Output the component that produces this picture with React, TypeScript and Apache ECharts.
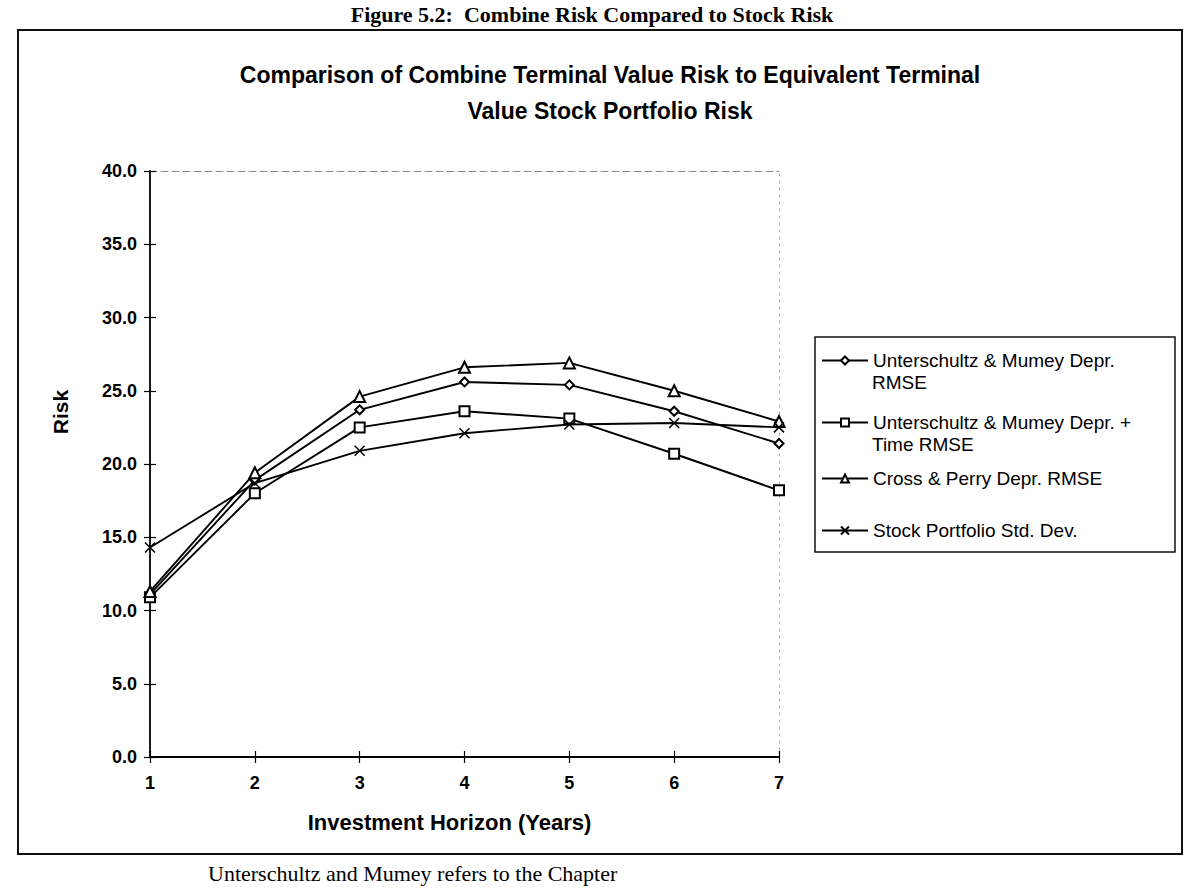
import React, { useEffect, useRef } from "react";
import * as echarts from "echarts";

const years = [1, 2, 3, 4, 5, 6, 7];
const umDepr = [11.1, 18.9, 23.7, 25.6, 25.4, 23.6, 21.4];
const umDeprTime = [10.9, 18.0, 22.5, 23.6, 23.1, 20.7, 18.2];
const crossPerry = [11.3, 19.4, 24.6, 26.6, 26.9, 25.0, 22.9];
const stockStd = [14.3, 18.7, 20.9, 22.1, 22.7, 22.8, 22.5];
const yTicks = { min: 0, max: 40, interval: 5 };

const seriesNames = [
  "Unterschultz & Mumey Depr. RMSE",
  "Unterschultz & Mumey Depr. + Time RMSE",
  "Cross & Perry Depr. RMSE",
  "Stock Portfolio Std. Dev.",
];
const legendFirstLines = [
  "Unterschultz & Mumey Depr.",
  "Unterschultz & Mumey Depr. +",
  "Cross & Perry Depr. RMSE",
  "Stock Portfolio Std. Dev.",
];
const legendSecondLines = ["RMSE", "Time RMSE", "", ""];

const FONT = "'Liberation Sans', Arial, Helvetica, sans-serif";
const SERIF = "'Liberation Serif', 'Times New Roman', serif";

export default function App() {
  const ref = useRef<HTMLDivElement>(null);
  useEffect(() => {
    if (!ref.current) return;
    const chart = echarts.init(ref.current, undefined, { renderer: "svg" });
    const values = [umDepr, umDeprTime, crossPerry, stockStd];
    const symbols = ["emptyDiamond", "emptyRect", "emptyTriangle", "path://M0,0L10,10M10,0L0,10"];
    const sizes = [9, 10, 11, 10];
    const legendTops = [351, 413, 469, 521];
    const legendFont = 19;

    const series = values.map((arr, i) => ({
      name: seriesNames[i],
      type: "line",
      data: arr.map((v, k) => [years[k], v]),
      symbol: symbols[i],
      symbolSize: sizes[i],
      showAllSymbol: true,
      lineStyle: { color: "#000", width: 1.9 },
      itemStyle: { color: "#000", borderColor: "#000", borderWidth: 1.5 },
      emphasis: { disabled: true },
      xAxisIndex: 0,
      yAxisIndex: 0,
      z: 3 + i,
    }));

    const legends = seriesNames.map((n, i) => ({
      data: [n],
      left: 821,
      top: legendTops[i],
      orient: "vertical",
      padding: 0,
      itemWidth: 46,
      itemHeight: 10,
      selectedMode: false,
      formatter: () => legendFirstLines[i],
      textStyle: { fontFamily: FONT, fontSize: legendFont, color: "#000" },
    }));

    const graphic: any[] = [
      {
        type: "rect",
        shape: { x: 18, y: 30, width: 1164, height: 824 },
        style: { fill: "none", stroke: "#111", lineWidth: 2 },
        silent: true,
      },
      {
        type: "rect",
        shape: { x: 815, y: 337, width: 360, height: 215 },
        style: { fill: "#fff", stroke: "#111", lineWidth: 1.5 },
        silent: true,
        z: -1,
      },
      {
        type: "text",
        x: 592,
        y: 3,
        style: {
          text: "Figure 5.2:  Combine Risk Compared to Stock Risk",
          font: `bold 22px ${SERIF}`,
          fill: "#000",
          textAlign: "center",
          textVerticalAlign: "top",
        },
      },
      {
        type: "text",
        x: 208,
        y: 862,
        style: {
          text: "Unterschultz and Mumey refers to the Chapter",
          font: `22px ${SERIF}`,
          fill: "#000",
          textAlign: "left",
          textVerticalAlign: "top",
        },
      },
      {
        type: "text",
        x: 60,
        y: 412,
        rotation: Math.PI / 2,
        style: {
          text: "Risk",
          font: `bold 21px ${FONT}`,
          fill: "#000",
          textAlign: "center",
          textVerticalAlign: "middle",
        },
      },
    ];
    legendSecondLines.forEach((t, i) => {
      if (!t) return;
      graphic.push({
        type: "text",
        x: 872,
        y: legendTops[i] + 5 + 26,
        style: {
          text: t,
          font: `${legendFont}px ${FONT}`,
          fill: "#000",
          textAlign: "left",
          textVerticalAlign: "middle",
        },
        z: 10,
      });
    });

    const option: any = {
      animation: false,
      backgroundColor: "#fff",
      title: {
        text: "Comparison of Combine Terminal Value Risk to Equivalent Terminal\nValue Stock Portfolio Risk",
        left: 605,
        top: 52,
        textAlign: "center",
        textStyle: {
          fontFamily: FONT,
          fontSize: 23,
          fontWeight: "bold",
          color: "#000",
          lineHeight: 36,
        },
      },
      legend: legends,
      grid: { left: 150, top: 171, width: 629, height: 586, containLabel: false },
      xAxis: [
        {
          type: "value",
          min: 1,
          max: 7,
          interval: 1,
          position: "bottom",
          name: "Investment Horizon (Years)",
          nameLocation: "middle",
          nameGap: 54,
          nameTextStyle: {
            fontFamily: FONT,
            fontSize: 22,
            fontWeight: "bold",
            color: "#000",
            padding: [0, 30, 0, 0],
          },
          axisLine: { show: true, onZero: false, lineStyle: { color: "#000", width: 1.8 } },
          axisTick: { show: true, length: 6, lineStyle: { color: "#000", width: 1.2 } },
          axisLabel: { margin: 17, fontFamily: FONT, fontSize: 18, fontWeight: "bold", color: "#000" },
          splitLine: { show: false },
        },
        {
          type: "value",
          min: 1,
          max: 7,
          interval: 1,
          position: "bottom",
          axisLine: { show: false, onZero: false },
          axisTick: { show: true, inside: true, length: 6, lineStyle: { color: "#000", width: 1.2 } },
          axisLabel: { show: false },
          splitLine: { show: false },
        },
        {
          type: "value",
          min: 1,
          max: 7,
          interval: 1,
          position: "top",
          axisLine: { show: true, onZero: false, lineStyle: { color: "#888", width: 1, type: [7, 4] } },
          axisTick: { show: false },
          axisLabel: { show: false },
          splitLine: { show: false },
        },
      ],
      yAxis: [
        {
          type: "value",
          min: yTicks.min,
          max: yTicks.max,
          interval: yTicks.interval,
          position: "left",
          axisLine: { show: true, onZero: false, lineStyle: { color: "#000", width: 1.8 } },
          axisTick: { show: true, length: 6, lineStyle: { color: "#000", width: 1.2 } },
          axisLabel: {
            margin: 13,
            fontFamily: FONT,
            fontSize: 18,
            fontWeight: "bold",
            color: "#000",
            formatter: (v: number) => v.toFixed(1),
          },
          splitLine: { show: false },
        },
        {
          type: "value",
          min: yTicks.min,
          max: yTicks.max,
          interval: yTicks.interval,
          position: "left",
          axisLine: { show: false, onZero: false },
          axisTick: { show: true, inside: true, length: 6, lineStyle: { color: "#000", width: 1.2 } },
          axisLabel: { show: false },
          splitLine: { show: false },
        },
        {
          type: "value",
          min: yTicks.min,
          max: yTicks.max,
          interval: yTicks.interval,
          position: "right",
          axisLine: { show: true, onZero: false, lineStyle: { color: "#aaa", width: 1, type: [2, 5] } },
          axisTick: { show: false },
          axisLabel: { show: false },
          splitLine: { show: false },
        },
      ],
      series,
      graphic,
    };
    chart.setOption(option);
    return () => chart.dispose();
  }, []);
  return (
    <div
      ref={ref}
      style={{ position: "fixed", left: 0, top: 0, width: 1195, height: 888, background: "#fff" }}
    />
  );
}
